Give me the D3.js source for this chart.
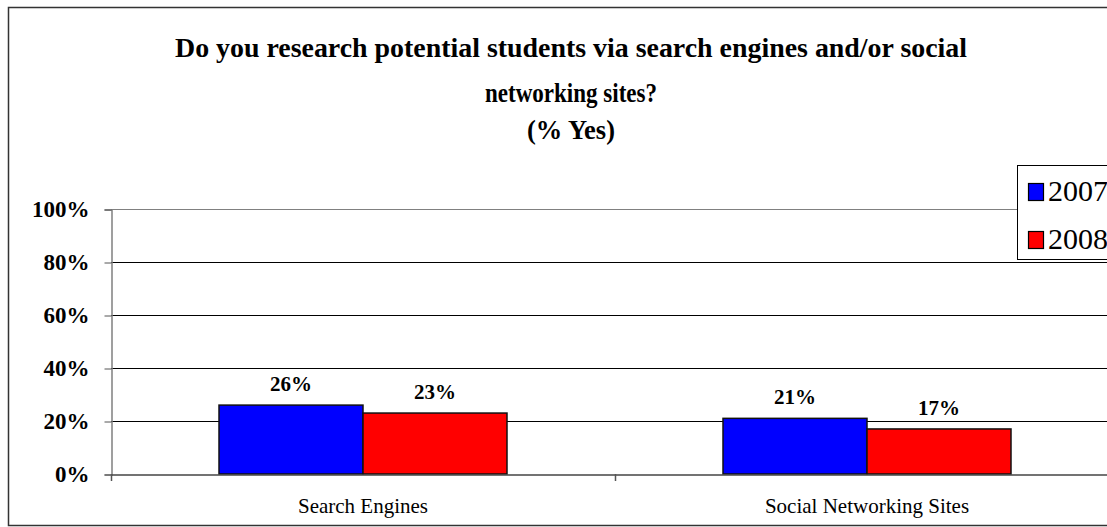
<!DOCTYPE html>
<html>
<head>
<meta charset="utf-8">
<script src="https://cdn.jsdelivr.net/npm/d3@7"></script>
<style>
html,body{margin:0;padding:0;background:#fff;overflow:hidden;}
svg{display:block;}
</style>
</head>
<body>
<script>
const categories = ["Search Engines", "Social Networking Sites"];
const seriesNames = ["2007", "2008"];
const values2007 = [0.26, 0.21];
const values2008 = [0.23, 0.17];
const yTicks = [0, 0.2, 0.4, 0.6, 0.8, 1.0];
const seriesColors = ["#0000ff", "#ff0000"];
const titleLines = ["Do you research potential students via search engines and/or social", "networking sites?", "(% Yes)"];

const W = 1107, H = 527;
const FONT = '"Liberation Serif"';
const svg = d3.select("body").append("svg").attr("width", W).attr("height", H);

// outer chart border
svg.append("rect").attr("x", 8.5).attr("y", 7.5).attr("width", 1200).attr("height", 518)
  .attr("fill", "#fff").attr("stroke", "#333").attr("stroke-width", 1.5);

const plotL = 111, plotR = 1119, plotT = 209, plotB = 474;
const x0 = d3.scaleBand().domain(categories).range([plotL, plotR]).padding(0);
const bw = x0.bandwidth();
const x1 = d3.scaleBand().domain(seriesNames).range([bw * 108 / 504, bw * 396 / 504]).padding(0);
const y = d3.scaleLinear().domain([0, 1]).range([plotB, plotT]);

// gridlines
svg.append("g").selectAll("line").data(yTicks.filter(t => t > 0)).join("line")
  .attr("x1", plotL).attr("x2", plotR)
  .attr("y1", d => Math.round(y(d)) + 0.5).attr("y2", d => Math.round(y(d)) + 0.5)
  .attr("stroke", d => d === 1 ? "#808080" : "#000").attr("stroke-width", 1);

// y axis
const yAxis = d3.axisLeft(y).tickValues(yTicks).tickFormat(d3.format(".0%")).tickSize(7).tickPadding(15);
const gy = svg.append("g").attr("transform", `translate(${plotL + 0.5},0.5)`).call(yAxis);
gy.select(".domain").attr("stroke", "#808080").attr("stroke-width", 1.5);
gy.selectAll(".tick line").attr("stroke", "#555");
gy.selectAll("text").style("font-family", FONT).style("font-weight", "bold").style("font-size", "23px")
  .attr("fill", "#000").attr("dy", "0.32em");

// bars
const data = categories.map((c, i) => ({cat: c, vals: [{s: seriesNames[0], v: values2007[i]}, {s: seriesNames[1], v: values2008[i]}]}));
const color = d3.scaleOrdinal().domain(seriesNames).range(seriesColors);
const groups = svg.append("g").selectAll("g").data(data).join("g")
  .attr("transform", d => `translate(${x0(d.cat)},0)`);
groups.selectAll("rect").data(d => d.vals).join("rect")
  .attr("x", d => x1(d.s)).attr("width", x1.bandwidth())
  .attr("y", d => y(d.v)).attr("height", d => y(0) - y(d.v))
  .attr("fill", d => color(d.s)).attr("stroke", "#111").attr("stroke-width", 1.5);
groups.selectAll("text").data(d => d.vals).join("text")
  .attr("x", d => x1(d.s) + x1.bandwidth() / 2).attr("y", d => y(d.v) - 14)
  .attr("text-anchor", "middle")
  .style("font-family", FONT).style("font-weight", "bold").style("font-size", "21px")
  .text(d => d3.format(".0%")(d.v));

// x axis
const xAxis = d3.axisBottom(x0).tickSize(0).tickPadding(0);
const gx = svg.append("g").attr("transform", `translate(0,${plotB + 0.5})`).call(xAxis);
gx.select(".domain").attr("stroke", "#444").attr("stroke-width", 1.5);
gx.selectAll(".tick text").style("font-family", FONT).style("font-size", "21px").attr("fill", "#000")
  .attr("y", 38).attr("dy", 0);
// category separator ticks
svg.append("g").selectAll("line").data(categories.concat(["end"]).map((c, i) => plotL + i * bw)).join("line")
  .attr("x1", d => d + 0.5).attr("x2", d => d + 0.5).attr("y1", plotB).attr("y2", plotB + 7)
  .attr("stroke", "#555").attr("stroke-width", 1.5);

// title
const tY = [57, 102, 139];
svg.append("g").selectAll("text").data(titleLines).join("text")
  .attr("x", 571).attr("y", (d, i) => tY[i]).attr("text-anchor", "middle")
  .style("font-family", FONT).style("font-weight", "bold").style("font-size", "28px")
  .attr("textLength", (d, i) => [792, 172, 88][i]).attr("lengthAdjust", "spacingAndGlyphs")
  .text(d => d);

// legend
const lg = svg.append("g");
lg.append("rect").attr("x", 1017.5).attr("y", 165.5).attr("width", 120).attr("height", 94)
  .attr("fill", "#fff").attr("stroke", "#000").attr("stroke-width", 1);
const li = lg.selectAll("g").data(seriesNames).join("g")
  .attr("transform", (d, i) => `translate(1028,${183 + i * 48})`);
li.append("rect").attr("x", 0.5).attr("y", 0.5).attr("width", 15).attr("height", 17)
  .attr("fill", d => color(d)).attr("stroke", "#000").attr("stroke-width", 1.2);
li.append("text").attr("x", 20).attr("y", 18).style("font-family", FONT).style("font-size", "30px").text(d => d);
</script>
</body>
</html>
